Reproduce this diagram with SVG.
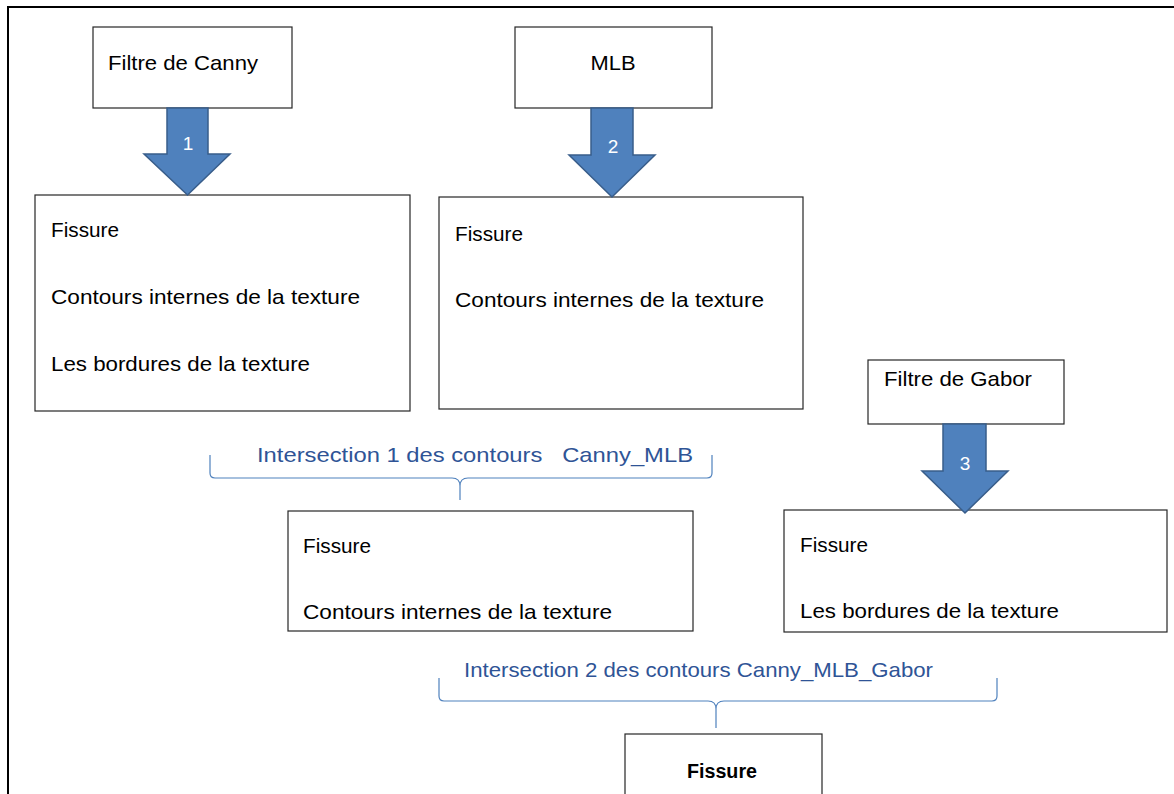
<svg xmlns="http://www.w3.org/2000/svg" width="1174" height="794" viewBox="0 0 1174 794">
<defs>
<style>
.box{fill:#fff;stroke:#262626;stroke-width:1.2}
.t{font-family:"Liberation Sans",Arial,sans-serif;font-size:21px;fill:#000}
.tb{font-family:"Liberation Sans",Arial,sans-serif;font-size:20px;font-weight:bold;fill:#000}
.lbl{font-family:"Liberation Sans",Arial,sans-serif;font-size:21px;fill:#2F5496}
.num{font-family:"Liberation Sans",Arial,sans-serif;font-size:19px;fill:#fff;text-anchor:middle}
.arrow{fill:#4F81BD;stroke:#385D8A;stroke-width:1.5}
.brace{fill:none;stroke:#4F81BD;stroke-width:1.2}
</style>
</defs>
<rect x="0" y="0" width="1174" height="794" fill="#fff"/>
<path d="M8,794 L8,7 L1174,7" fill="none" stroke="#000" stroke-width="2"/>

<g id="canny">
<rect class="box" x="93" y="27" width="199" height="81"/>
<text class="t" x="108" y="70" textLength="150" lengthAdjust="spacingAndGlyphs">Filtre de Canny</text>
</g>
<g id="mlb">
<rect class="box" x="515" y="27" width="197" height="81"/>
<text class="t" x="613" y="70" text-anchor="middle" textLength="45" lengthAdjust="spacingAndGlyphs">MLB</text>
</g>
<g id="canny-result">
<rect class="box" x="35" y="195" width="375" height="216"/>
<text class="t" x="51" y="237" textLength="68" lengthAdjust="spacingAndGlyphs">Fissure</text>
<text class="t" x="51" y="304" textLength="309" lengthAdjust="spacingAndGlyphs">Contours internes de la texture</text>
<text class="t" x="51" y="371" textLength="259" lengthAdjust="spacingAndGlyphs">Les bordures de la texture</text>
</g>
<g id="mlb-result">
<rect class="box" x="439" y="197" width="364" height="212"/>
<text class="t" x="455" y="241" textLength="68" lengthAdjust="spacingAndGlyphs">Fissure</text>
<text class="t" x="455" y="307" textLength="309" lengthAdjust="spacingAndGlyphs">Contours internes de la texture</text>
</g>
<g id="gabor">
<rect class="box" x="868" y="360" width="196" height="64"/>
<text class="t" x="884" y="386" textLength="148" lengthAdjust="spacingAndGlyphs">Filtre de Gabor</text>
</g>
<g id="intersection1-result">
<rect class="box" x="288" y="511" width="405" height="120"/>
<text class="t" x="303" y="553" textLength="68" lengthAdjust="spacingAndGlyphs">Fissure</text>
<text class="t" x="303" y="619" textLength="309" lengthAdjust="spacingAndGlyphs">Contours internes de la texture</text>
</g>
<g id="gabor-result">
<rect class="box" x="784" y="510" width="383" height="122"/>
<text class="t" x="800" y="552" textLength="68" lengthAdjust="spacingAndGlyphs">Fissure</text>
<text class="t" x="800" y="618" textLength="259" lengthAdjust="spacingAndGlyphs">Les bordures de la texture</text>
</g>
<g id="final">
<rect class="box" x="625" y="734" width="197" height="80"/>
<text class="tb" x="722" y="778" text-anchor="middle" textLength="70" lengthAdjust="spacingAndGlyphs">Fissure</text>
</g>

<g id="connectors">
<polygon class="arrow" points="167,108 208,108 208,154 230,154 187.5,195 144,154 167,154"/>
<text class="num" x="188" y="150">1</text>
<polygon class="arrow" points="591,108 633,108 633,155 655,155 612,197 569,155 591,155"/>
<text class="num" x="613" y="153">2</text>
<polygon class="arrow" points="943,424 986,424 986,471 1008,471 965,513 922,471 943,471"/>
<text class="num" x="965" y="470">3</text>
<path class="brace" d="M210,455 L210,473 Q210,478 215,478 L452,478 Q460,478 460,486 L460,500 M460,486 Q460,478 468,478 L707,478 Q712,478 712,473 L712,455"/>
<text class="lbl" x="257" y="462" textLength="436" lengthAdjust="spacingAndGlyphs" xml:space="preserve">Intersection 1 des contours   Canny_MLB</text>
<path class="brace" d="M439,678 L439,696 Q439,701 444,701 L708,701 Q716,701 716,709 L716,728 M716,709 Q716,701 724,701 L992,701 Q997,701 997,696 L997,678"/>
<text class="lbl" x="464" y="677" textLength="469" lengthAdjust="spacingAndGlyphs">Intersection 2 des contours Canny_MLB_Gabor</text>
</g>
</svg>
